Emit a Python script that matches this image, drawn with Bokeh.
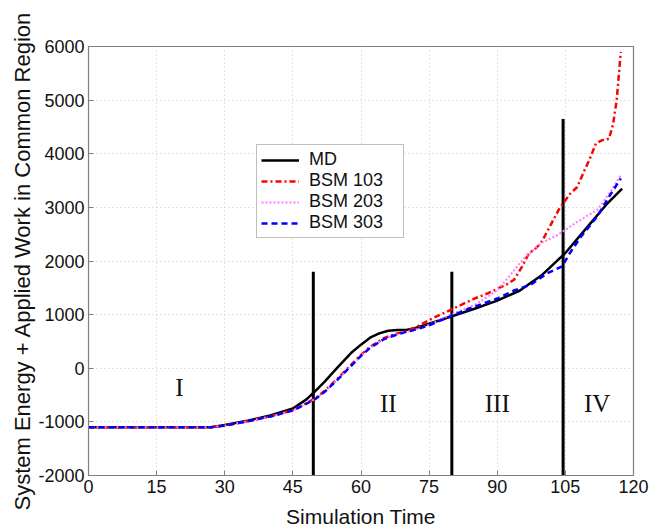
from bokeh.plotting import figure
from bokeh.models import Range1d, FixedTicker, Legend, LegendItem
from bokeh.core.properties import value
from bokeh.embed import file_html
from bokeh.resources import INLINE

# ---------------- data ----------------
x_ticks = [0, 15, 30, 45, 60, 75, 90, 105, 120]
y_ticks = [-2000, -1000, 0, 1000, 2000, 3000, 4000, 5000, 6000]
y_tick_labels = ["-2000", "-1000", "0", "1000", "2000", "3000", "4000", "5000", "6000"]

md_x = [0, 10, 20, 27, 30, 35, 40, 45, 48, 50, 52, 55, 58, 60, 62, 64, 66, 68, 70, 72, 75,
        80, 85, 90, 95, 100, 105, 110, 114, 117.5]
md_y = [-1100, -1100, -1100, -1100, -1060, -980, -880, -750, -580, -420, -250, 30, 300, 440,
        570, 650, 700, 715, 715, 750, 830, 970, 1110, 1260, 1450, 1750, 2150, 2650, 3050, 3350]

bsm103_x = [0, 10, 20, 27, 30, 35, 40, 45, 48, 50, 52, 55, 58, 60, 62, 65, 68, 70, 72, 75,
            80, 85, 88, 90, 92, 93.7, 95.5, 97, 98, 99.6, 101, 103.5, 104.7, 106, 107.6, 109,
            110.6, 111.7, 113, 114.6, 115.5, 116.3, 117.2]
bsm103_y = [-1100, -1100, -1100, -1100, -1070, -990, -900, -780, -650, -560, -420, -180, 80,
            250, 400, 560, 650, 690, 760, 900, 1100, 1300, 1400, 1480, 1560, 1650, 1900, 2150,
            2200, 2330, 2550, 2950, 3100, 3250, 3380, 3650, 3950, 4190, 4250, 4280, 4550, 5000, 5900]

bsm203_x = [0, 10, 20, 27, 30, 35, 40, 45, 48, 50, 52, 55, 58, 60, 62, 65, 68, 70, 72, 75,
            80, 85, 90, 92.3, 95.9, 99.6, 103.2, 107.6, 112, 115, 117.2]
bsm203_y = [-1100, -1100, -1100, -1100, -1070, -990, -900, -790, -660, -570, -440, -200, 60,
            230, 380, 540, 630, 680, 720, 810, 1010, 1180, 1450, 1680, 2050, 2330, 2480, 2730,
            2950, 3300, 3600]

bsm303_x = [0, 10, 20, 27, 30, 35, 40, 45, 48, 50, 52, 55, 58, 60, 62, 65, 68, 70, 72, 75,
            80, 85, 90, 93.7, 97.4, 101, 104.3, 106, 108.4, 112, 115, 117.2]
bsm303_y = [-1100, -1100, -1100, -1100, -1070, -990, -900, -790, -660, -570, -440, -200, 60,
            230, 380, 540, 630, 680, 720, 800, 980, 1150, 1300, 1450, 1560, 1770, 1900, 2150,
            2450, 2830, 3250, 3540]

# region boundaries (x position, top value)
boundary_x = [49.5, 80, 104.5]
boundary_top = [1800, 1800, 4650]

region_labels = ["I", "II", "III", "IV"]
region_x = [20, 66, 90, 112]
region_y = [-350, -650, -650, -650]

series_labels = ["MD", "BSM 103", "BSM 203", "BSM 303"]
x_title = "Simulation Time"
y_title = "System Energy + Applied Work in Common Region"

# ---------------- figure ----------------
p = figure(width=650, height=530, output_backend="svg", toolbar_location=None,
           x_range=Range1d(0, 120), y_range=Range1d(-2000, 6000),
           min_border_left=88, min_border_right=17, min_border_top=46, min_border_bottom=54)
p.background_fill_color = "white"
p.border_fill_color = "white"
p.outline_line_color = "#7f7f7f"
p.outline_line_width = 1.2

for ax, ticks in ((p.xaxis[0], x_ticks), (p.yaxis[0], y_ticks)):
    ax.ticker = FixedTicker(ticks=ticks)
    ax.major_tick_in = 5
    ax.major_tick_out = 0
    ax.minor_tick_in = 0
    ax.minor_tick_out = 0
    ax.axis_line_color = "#7f7f7f"
    ax.major_tick_line_color = "#7f7f7f"
    ax.major_label_text_font = "Liberation Sans"
    ax.major_label_text_font_size = "18px"
    ax.major_label_text_color = "#111111"
    ax.axis_label_text_font = "Liberation Sans"
    ax.axis_label_text_font_style = "normal"
    ax.axis_label_text_color = "#111111"

p.yaxis.major_label_overrides = {t: s for t, s in zip(y_ticks, y_tick_labels)}
p.xaxis.axis_label = x_title
p.yaxis.axis_label = y_title
p.xaxis.axis_label_text_font_size = "21px"
p.yaxis.axis_label_text_font_size = "22px"
p.xaxis.major_label_standoff = 4
p.xaxis.axis_label_standoff = 9
p.yaxis.major_label_standoff = 4
p.yaxis.axis_label_standoff = 0

p.grid.grid_line_color = "#c8c8c8"
p.grid.grid_line_dash = "1 3"
p.grid.grid_line_width = 1

# boundaries
p.segment(x0=boundary_x, y0=[-2000] * 3, x1=boundary_x, y1=boundary_top,
          line_color="black", line_width=3)

# region labels
p.text(x=region_x, y=region_y, text=region_labels, text_font=value("Liberation Serif"),
       text_font_size="25px", text_align="center", text_baseline="middle", text_color="#111111")

r_md = p.line(md_x, md_y, line_color="black", line_width=2.5)
r_103 = p.line(bsm103_x, bsm103_y, line_color="#ff0000", line_width=2.5, line_dash="6 3 2 3")
r_203 = p.line(bsm203_x, bsm203_y, line_color="#ff77ff", line_width=2, line_dash="2 2")
r_303 = p.line(bsm303_x, bsm303_y, line_color="#0000ff", line_width=2.5, line_dash="6 4")

legend = Legend(items=[LegendItem(label=series_labels[0], renderers=[r_md]),
                       LegendItem(label=series_labels[1], renderers=[r_103]),
                       LegendItem(label=series_labels[2], renderers=[r_203]),
                       LegendItem(label=series_labels[3], renderers=[r_303])],
                location=(168, 237))
legend.label_text_font = "Liberation Sans"
legend.label_text_font_size = "18px"
legend.label_text_color = "#111111"
legend.glyph_width = 38
legend.glyph_height = 18
legend.label_height = 20
legend.label_width = 90
legend.label_standoff = 10
legend.spacing = 0
legend.padding = 4
legend.margin = 0
legend.border_line_color = "#7f7f7f"
legend.border_line_width = 1.5
legend.background_fill_alpha = 1
p.add_layout(legend, "center")

open("out.html", "w").write(file_html(p, INLINE))
